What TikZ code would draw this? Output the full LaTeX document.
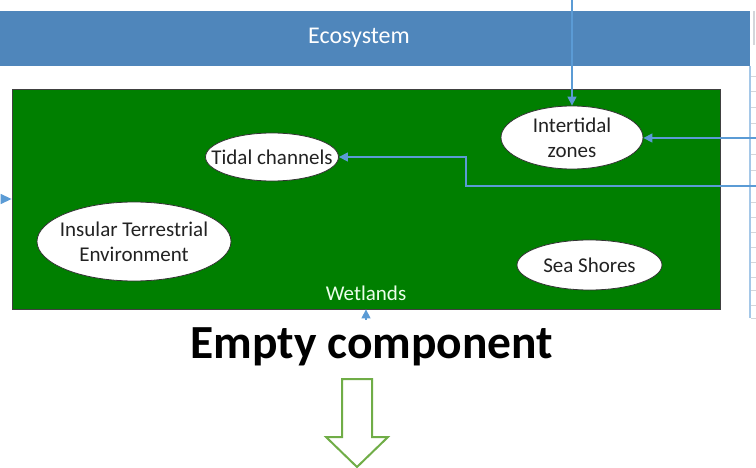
\documentclass[tikz,border=0pt]{standalone}
\usepackage{fontspec}
\setmainfont{Carlito}
\usetikzlibrary{arrows.meta,shapes.geometric}
\definecolor{bannerblue}{HTML}{4F86BB}
\definecolor{wetgreen}{HTML}{007F00}
\definecolor{linkblue}{HTML}{5B9BD5}
\definecolor{arrowgreen}{HTML}{70AD47}
\definecolor{gridgray}{HTML}{D3D6DA}
\definecolor{inkgray}{HTML}{222222}
\tikzset{
  banner/.style={fill=bannerblue, minimum width=750pt, minimum height=55pt, inner sep=0pt},
  bannertext/.style={text=white, inner sep=0pt, font=\fontsize{24}{28}\selectfont},
  wetbox/.style={draw=black!75, fill=wetgreen, line width=0.8pt, minimum width=708pt, minimum height=220pt, inner sep=0pt},
  wetlabel/.style={text=white!92!green, inner sep=0pt, font=\fontsize{21}{25}\selectfont},
  zone/.style={ellipse, draw=black!80, fill=white, line width=0.8pt, inner sep=0pt},
  zonetext/.style={text=inkgray, align=center, inner sep=0pt, font=\fontsize{21}{25}\selectfont},
  titletext/.style={text=black, inner sep=0pt, font=\fontsize{47.5}{52}\selectfont\bfseries},
  link/.style={linkblue, line width=1.3pt, -{Triangle[length=9pt,width=9pt]}},
  gridline/.style={linkblue!55, line width=1.2pt},
  gridtick/.style={gridgray, line width=0.8pt},
  hollowarrow/.style={draw=arrowgreen, fill=white, line width=2pt, line join=miter}
}
\begin{document}
\begin{tikzpicture}[x=1pt, y=-1pt]
  \useasboundingbox (0,0) rectangle (756,468);
  % header band
  \node[banner] (banner) at (375,38.5) {};
  \node[bannertext, anchor=base] (eco) at (359,44) {Ecosystem};
  % cropped table edge on the right
  \draw[gridtick, line width=2pt] (754,11) -- (754,45);
  \draw[gridline] (750,66) -- (750,318);
  \foreach \ty in {76,91,107,123,154,170,202,217,232,247,262,277,290,305,318}
    \draw[gridtick] (751,\ty) -- (756,\ty);
  % wetlands area
  \node[wetbox] (wet) at (366,199) {};
  \node[wetlabel, anchor=base] (wetname) at (366,300) {Wetlands};
  % zones
  \node[zone, minimum width=142pt, minimum height=63pt,
    label={[zonetext]center:{Intertidal\\zones}}] (inter) at (572,137.5) {};
  \node[zone, minimum width=133pt, minimum height=48pt,
    label={[zonetext]center:{Tidal channels}}] (tidal) at (272,157) {};
  \node[zone, minimum width=194pt, minimum height=79pt,
    label={[zonetext]center:{Insular Terrestrial\\Environment}}] (insular) at (134,241.5) {};
  \node[zone, minimum width=145pt, minimum height=50pt,
    label={[zonetext]center:{Sea Shores}}] (shores) at (589.5,265) {};
  % connectors
  \coordinate (fromtop) at (572,0);
  \coordinate (fromright) at (756,138);
  \coordinate (fromlow) at (756,186);
  \coordinate (bend) at (466,157);
  \coordinate (fromleft) at (1,199);
  \coordinate (frombelow) at (366,319.5);
  \draw[link] (fromtop) -- (inter.north);
  \draw[link] (fromright) -- (fromright -| inter.east);
  \draw[link] (fromlow) -| (bend) -- (tidal.east);
  \draw[link, -{Triangle[length=11pt,width=10pt]}] (fromleft) -- (wet.west);
  \draw[link] (frombelow) -- (wet.south);
  % caption and hollow arrow
  \node[titletext, anchor=base] (empty) at (372,358) {Empty component};
  \draw[hollowarrow] (342,379) -- (372,379) -- (372,437) -- (388,437)
    -- (357,467) -- (326,437) -- (342,437) -- cycle;
\end{tikzpicture}
\end{document}
